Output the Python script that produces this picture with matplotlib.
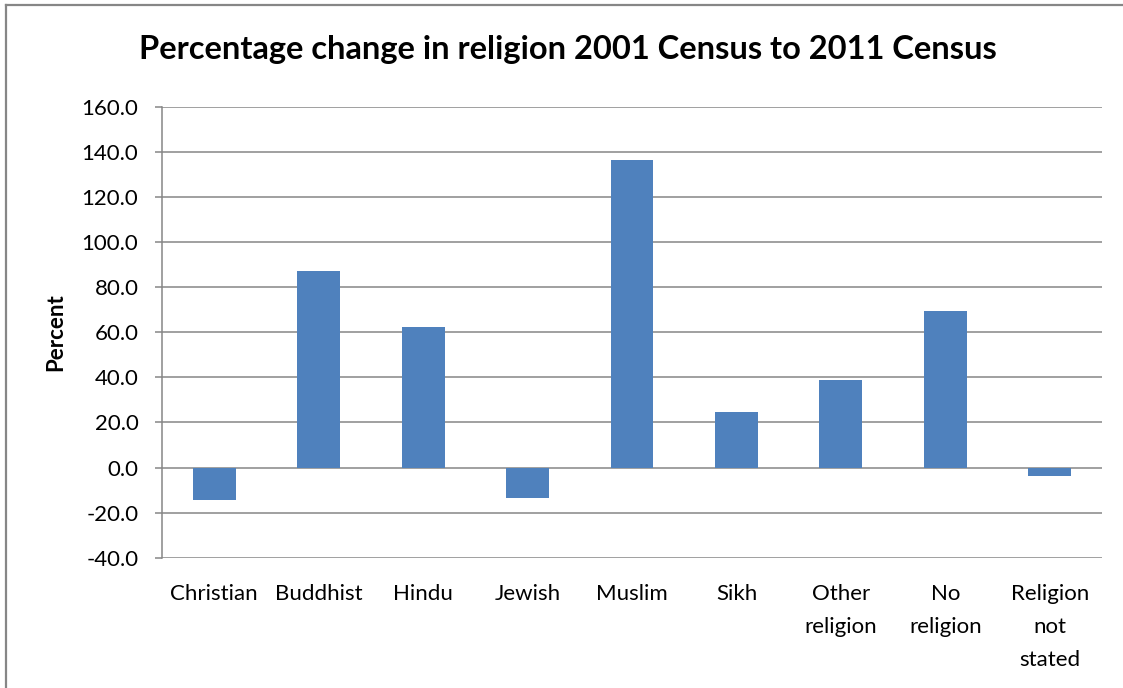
import matplotlib
matplotlib.use("Agg")
import matplotlib.pyplot as plt
from matplotlib.ticker import FormatStrFormatter
from matplotlib.lines import Line2D

categories = ["Christian", "Buddhist", "Hindu", "Jewish", "Muslim", "Sikh",
              "Other\nreligion", "No\nreligion", "Religion\nnot\nstated"]
values = [-14.4, 87.3, 62.1, -13.4, 136.5, 24.5, 38.6, 69.2, -3.7]
yticks = [-40, -20, 0, 20, 40, 60, 80, 100, 120, 140, 160]

plt.rcParams['font.family'] = ['Lato', 'DejaVu Sans']
plt.rcParams['axes.unicode_minus'] = False

W, H = 1123, 688
fig = plt.figure(figsize=(W / 100, H / 100), dpi=100)
ax = fig.add_axes([162 / W, 1 - 557.7 / H, (1102 - 162) / W, (557.7 - 106.7) / H])

grid_c = "#868686"
x = range(len(categories))
ax.bar(x, values, width=0.41, color="#4F81BD", zorder=3)

ax.set_xlim(-0.5, len(categories) - 0.5)
ax.set_ylim(-40, 160)
ax.set_yticks(yticks)
ax.yaxis.set_major_formatter(FormatStrFormatter('%.1f'))
ax.set_xticks(list(x))
ax.set_xticklabels(categories, fontsize=16, linespacing=1.82, va='top')
ax.tick_params(axis='x', length=0, pad=19)
ax.tick_params(axis='y', length=5, width=1.1, color=grid_c, labelsize=16, pad=12)

ax.grid(axis='y', color=grid_c, linewidth=1.1, zorder=0)
for s in ['top', 'right', 'bottom']:
    ax.spines[s].set_visible(False)
ax.spines['left'].set_color(grid_c)
ax.spines['left'].set_linewidth(1.1)

ax.set_ylabel("Percent", fontsize=16, fontweight='bold')
ax.yaxis.set_label_coords(-(162 - 66) / (1102 - 162), 0.5)

fig.text(0.5 * (135 + 1000) / W, 1 - 50 / H,
         "Percentage change in religion 2001 Census to 2011 Census",
         ha='center', va='center', fontsize=23.5, fontweight='bold')

# chart border (top and left edges visible)
fig.add_artist(Line2D([6 / W, 1], [1 - 4.5 / H, 1 - 4.5 / H],
                      transform=fig.transFigure, color=grid_c, linewidth=1.6))
fig.add_artist(Line2D([6 / W, 6 / W], [0, 1 - 4.5 / H],
                      transform=fig.transFigure, color=grid_c, linewidth=1.6))

fig.savefig("out.png", dpi=100)
